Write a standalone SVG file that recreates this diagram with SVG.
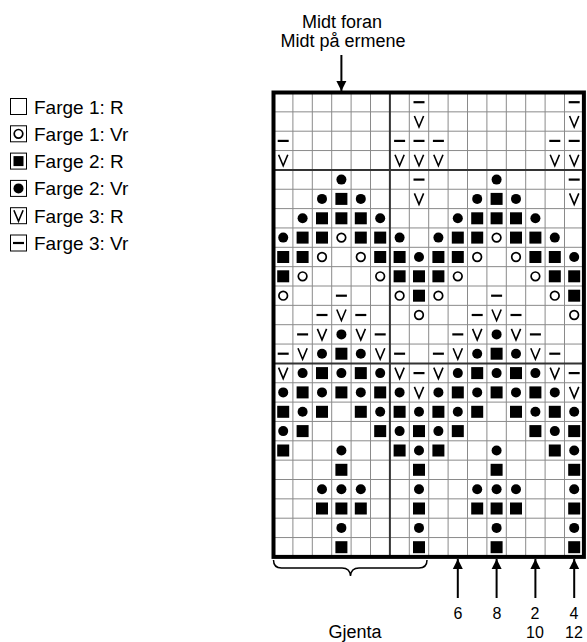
<svg xmlns="http://www.w3.org/2000/svg" width="587" height="642" viewBox="0 0 587 642">
<style>
text{font-family:"Liberation Sans",Arial,sans-serif;font-size:18px;fill:#000}
.leg{font-size:19px}
.num{font-size:16px}
.thin{stroke:#8a8a8a;stroke-width:1;fill:none}
.mid{stroke:#333;stroke-width:2;fill:none}
.ln{stroke:#000;stroke-width:2;fill:none}
.lb{fill:#fff;stroke:#000;stroke-width:1}
</style>
<defs>
<rect id="S" x="-6" y="-6" width="12" height="12" fill="#000"/>
<circle id="D" r="5" fill="#000"/>
<circle id="O" r="4.3" fill="#fff" stroke="#000" stroke-width="1.7"/>
<line id="T" x1="-5.5" y1="0" x2="5.5" y2="0" stroke="#000" stroke-width="2.2"/>
<polyline id="V" points="-4.6,-5.5 0,5.5 4.6,-5.5" fill="none" stroke="#000" stroke-width="1.6"/>
<marker id="ah" viewBox="0 0 10 14" refX="10" refY="7" markerWidth="10" markerHeight="14" markerUnits="userSpaceOnUse" orient="auto"><path d="M0,2 L10,7 L0,12 Z" fill="#000"/></marker>
<g id="motif">
<use href="#T" x="419.0" y="102.2"/>
<use href="#V" x="419.0" y="121.5"/>
<use href="#T" x="283.2" y="140.9"/><use href="#T" x="399.6" y="140.9"/><use href="#T" x="419.0" y="140.9"/>
<use href="#V" x="283.2" y="160.2"/><use href="#V" x="399.6" y="160.2"/><use href="#V" x="419.0" y="160.2"/>
<use href="#D" x="341.4" y="179.6"/><use href="#T" x="419.0" y="179.6"/>
<use href="#D" x="322.0" y="198.9"/><use href="#S" x="341.4" y="198.9"/><use href="#D" x="360.8" y="198.9"/><use href="#V" x="419.0" y="198.9"/>
<use href="#D" x="302.6" y="218.3"/><use href="#S" x="322.0" y="218.3"/><use href="#S" x="341.4" y="218.3"/><use href="#S" x="360.8" y="218.3"/><use href="#D" x="380.2" y="218.3"/>
<use href="#D" x="283.2" y="237.6"/><use href="#S" x="302.6" y="237.6"/><use href="#S" x="322.0" y="237.6"/><use href="#O" x="341.4" y="237.6"/><use href="#S" x="360.8" y="237.6"/><use href="#S" x="380.2" y="237.6"/><use href="#D" x="399.6" y="237.6"/>
<use href="#S" x="283.2" y="257.0"/><use href="#S" x="302.6" y="257.0"/><use href="#O" x="322.0" y="257.0"/><use href="#O" x="360.8" y="257.0"/><use href="#S" x="380.2" y="257.0"/><use href="#S" x="399.6" y="257.0"/><use href="#D" x="419.0" y="257.0"/>
<use href="#S" x="283.2" y="276.3"/><use href="#O" x="302.6" y="276.3"/><use href="#O" x="380.2" y="276.3"/><use href="#S" x="399.6" y="276.3"/><use href="#S" x="419.0" y="276.3"/>
<use href="#O" x="283.2" y="295.7"/><use href="#T" x="341.4" y="295.7"/><use href="#O" x="399.6" y="295.7"/><use href="#S" x="419.0" y="295.7"/>
<use href="#T" x="322.0" y="315.0"/><use href="#V" x="341.4" y="315.0"/><use href="#T" x="360.8" y="315.0"/><use href="#O" x="419.0" y="315.0"/>
<use href="#T" x="302.6" y="334.4"/><use href="#V" x="322.0" y="334.4"/><use href="#D" x="341.4" y="334.4"/><use href="#V" x="360.8" y="334.4"/><use href="#T" x="380.2" y="334.4"/>
<use href="#T" x="283.2" y="353.7"/><use href="#V" x="302.6" y="353.7"/><use href="#D" x="322.0" y="353.7"/><use href="#S" x="341.4" y="353.7"/><use href="#D" x="360.8" y="353.7"/><use href="#V" x="380.2" y="353.7"/><use href="#T" x="399.6" y="353.7"/>
<use href="#V" x="283.2" y="373.1"/><use href="#D" x="302.6" y="373.1"/><use href="#S" x="322.0" y="373.1"/><use href="#D" x="341.4" y="373.1"/><use href="#S" x="360.8" y="373.1"/><use href="#D" x="380.2" y="373.1"/><use href="#V" x="399.6" y="373.1"/><use href="#T" x="419.0" y="373.1"/>
<use href="#D" x="283.2" y="392.4"/><use href="#S" x="302.6" y="392.4"/><use href="#D" x="322.0" y="392.4"/><use href="#S" x="341.4" y="392.4"/><use href="#D" x="360.8" y="392.4"/><use href="#S" x="380.2" y="392.4"/><use href="#D" x="399.6" y="392.4"/><use href="#V" x="419.0" y="392.4"/>
<use href="#S" x="283.2" y="411.8"/><use href="#D" x="302.6" y="411.8"/><use href="#S" x="322.0" y="411.8"/><use href="#S" x="360.8" y="411.8"/><use href="#D" x="380.2" y="411.8"/><use href="#S" x="399.6" y="411.8"/><use href="#D" x="419.0" y="411.8"/>
<use href="#D" x="283.2" y="431.1"/><use href="#S" x="302.6" y="431.1"/><use href="#S" x="380.2" y="431.1"/><use href="#D" x="399.6" y="431.1"/><use href="#S" x="419.0" y="431.1"/>
<use href="#S" x="283.2" y="450.5"/><use href="#D" x="341.4" y="450.5"/><use href="#S" x="399.6" y="450.5"/><use href="#D" x="419.0" y="450.5"/>
<use href="#S" x="341.4" y="469.8"/><use href="#S" x="419.0" y="469.8"/>
<use href="#D" x="322.0" y="489.2"/><use href="#D" x="341.4" y="489.2"/><use href="#D" x="360.8" y="489.2"/><use href="#D" x="419.0" y="489.2"/>
<use href="#S" x="322.0" y="508.5"/><use href="#S" x="341.4" y="508.5"/><use href="#S" x="360.8" y="508.5"/><use href="#S" x="419.0" y="508.5"/>
<use href="#D" x="341.4" y="527.9"/><use href="#D" x="419.0" y="527.9"/>
<use href="#S" x="341.4" y="547.2"/><use href="#S" x="419.0" y="547.2"/>
</g>
</defs>
<rect width="587" height="642" fill="#fff"/>

<g id="legend">
<g id="leg1"><rect class="lb" x="10.5" y="98.5" width="16" height="16"/><text class="leg" x="34" y="113.5">Farge 1: R</text></g>
<g id="leg2"><rect class="lb" x="10.5" y="125.8" width="16" height="16"/><use href="#O" x="18.5" y="133.8"/><text class="leg" x="34" y="140.8">Farge 1: Vr</text></g>
<g id="leg3"><rect class="lb" x="10.5" y="153.1" width="16" height="16"/><rect x="13.5" y="156.1" width="10" height="10"/><text class="leg" x="34" y="168.1">Farge 2: R</text></g>
<g id="leg4"><rect class="lb" x="10.5" y="180.4" width="16" height="16"/><use href="#D" x="18.5" y="188.4"/><text class="leg" x="34" y="195.4">Farge 2: Vr</text></g>
<g id="leg5"><rect class="lb" x="10.5" y="207.7" width="16" height="16"/><use href="#V" x="18.5" y="215.7"/><text class="leg" x="34" y="222.7">Farge 3: R</text></g>
<g id="leg6"><rect class="lb" x="10.5" y="235" width="16" height="16"/><use href="#T" x="18.5" y="243"/><text class="leg" x="34" y="250">Farge 3: Vr</text></g>
</g>

<g id="chart">
<g id="gridlines" class="thin">
<path d="M292.9,92.5V556.9M312.3,92.5V556.9M331.7,92.5V556.9M351.1,92.5V556.9M370.5,92.5V556.9M409.3,92.5V556.9M428.7,92.5V556.9M448.1,92.5V556.9M467.5,92.5V556.9M486.9,92.5V556.9M506.3,92.5V556.9M525.7,92.5V556.9M545.1,92.5V556.9M564.5,92.5V556.9"/>
<path d="M273.5,111.85H583.9M273.5,131.2H583.9M273.5,150.55H583.9M273.5,189.25H583.9M273.5,208.6H583.9M273.5,227.95H583.9M273.5,247.3H583.9M273.5,266.65H583.9M273.5,286H583.9M273.5,305.35H583.9M273.5,324.7H583.9M273.5,344.05H583.9M273.5,382.75H583.9M273.5,402.1H583.9M273.5,421.45H583.9M273.5,440.8H583.9M273.5,460.15H583.9M273.5,479.5H583.9M273.5,498.85H583.9M273.5,518.2H583.9M273.5,537.55H583.9"/>
</g>
<path class="mid" d="M389.9,92.5V556.9M273.5,169.9H583.9M273.5,363.4H583.9"/>
<rect x="273.5" y="92.5" width="310.4" height="464.4" fill="none" stroke="#000" stroke-width="4"/>
<g id="symbols">
<use href="#motif"/>
<use href="#motif" x="155.2"/>
</g>
</g>

<g id="connectors">
<line class="ln" x1="341.4" y1="55" x2="341.4" y2="91" marker-end="url(#ah)"/>
<line class="ln" x1="457.8" y1="598" x2="457.8" y2="559" marker-end="url(#ah)"/>
<line class="ln" x1="496.6" y1="598" x2="496.6" y2="559" marker-end="url(#ah)"/>
<line class="ln" x1="535.4" y1="598" x2="535.4" y2="559" marker-end="url(#ah)"/>
<line class="ln" x1="574.2" y1="598" x2="574.2" y2="559" marker-end="url(#ah)"/>
<path d="M273.5,560 Q273.5,568 281.5,568 L342,568 Q350,568 350.5,576 Q351,568 359,568 L419,568 Q427,568 427,560" fill="none" stroke="#000" stroke-width="1.5"/>
</g>

<g id="labels">
<text x="342" y="28" text-anchor="middle">Midt foran</text>
<text x="343" y="47" text-anchor="middle">Midt på ermene</text>
<text x="355" y="638" text-anchor="middle">Gjenta</text>
<text class="num" x="458" y="619" text-anchor="middle">6</text>
<text class="num" x="497" y="619" text-anchor="middle">8</text>
<text class="num" x="535" y="619" text-anchor="middle">2</text>
<text class="num" x="574" y="619" text-anchor="middle">4</text>
<text class="num" x="535" y="638" text-anchor="middle">10</text>
<text class="num" x="574" y="638" text-anchor="middle">12</text>
</g>
</svg>
